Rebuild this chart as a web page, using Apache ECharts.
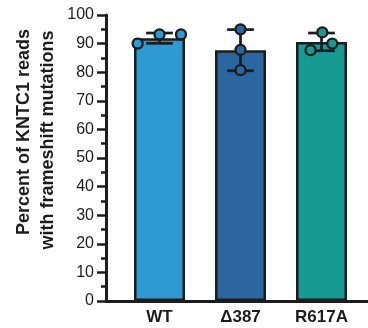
<!DOCTYPE html>
<html><head><meta charset="utf-8">
<script src="https://cdn.jsdelivr.net/npm/echarts@6/dist/echarts.min.js"></script>
<style>html,body{margin:0;padding:0;background:#fff}#c{width:368px;height:328px}</style>
</head><body><div id="c"></div>
<script>
const categories = ['WT', '\u0394387', 'R617A'];
const barColors = ['#2E9AD4', '#2B66A0', '#169A92'];
const means = [91.9, 87.7, 90.6];
const sds = [1.8, 7.2, 3.1];
const pointsWT = [90.0, 93.2, 93.2];
const pointsD387 = [95.0, 87.8, 80.7];
const pointsR617A = [87.7, 93.9, 90.0];
const jitterWT = [-0.27, 0.0, 0.265];
const jitterD387 = [0, 0, 0];
const jitterR617A = [-0.135, 0.01, 0.133];
const yMin = 0, yMax = 100, yInterval = 10;

const ink = '#1c1c1c';
const font = '"Liberation Sans", Arial, Helvetica, sans-serif';

const allPoints = [pointsWT, pointsD387, pointsR617A];
const allJitter = [jitterWT, jitterD387, jitterR617A];
const pointData = [];
allPoints.forEach((arr, i) => arr.forEach((v, k) => pointData.push([i, v, allJitter[i][k]])));
const errData = means.map((m, i) => [i, m, sds[i]]);

const chart = echarts.init(document.getElementById('c'), null, {renderer: 'canvas'});
chart.setOption({
  animation: false,
  backgroundColor: '#fff',
  grid: [
    {left: 119, right: 6, top: 15, bottom: 27},
    {left: 106, right: 1, top: 15, bottom: 27}
  ],
  xAxis: [
    {type: 'category', gridIndex: 0, data: categories,
     axisLine: {show: false}, axisTick: {show: false},
     axisLabel: {margin: 8, fontSize: 17, fontWeight: 'bold', color: ink, fontFamily: font}},
    {type: 'value', gridIndex: 1, min: 0, max: 1,
     axisLine: {show: true, lineStyle: {color: ink, width: 3}},
     axisTick: {show: false}, axisLabel: {show: false}, splitLine: {show: false}}
  ],
  yAxis: [
    {type: 'value', gridIndex: 0, min: yMin, max: yMax, show: false},
    {type: 'value', gridIndex: 1, min: yMin, max: yMax, interval: yInterval,
     axisLine: {show: true, lineStyle: {color: ink, width: 3}},
     axisTick: {show: true, length: 9, lineStyle: {color: ink, width: 2.5}},
     minorTick: {show: true, splitNumber: 2, length: 5, lineStyle: {color: ink, width: 2.5}},
     axisLabel: {margin: 12, fontSize: 16, color: ink, fontFamily: font},
     splitLine: {show: false}, minorSplitLine: {show: false}}
  ],
  graphic: [
    {type: 'text', x: 24, y: 132, rotation: Math.PI / 2,
     style: {text: 'Percent of KNTC1 reads', font: 'bold 18px ' + font, fill: ink, align: 'center', verticalAlign: 'middle'}},
    {type: 'text', x: 48, y: 140, rotation: Math.PI / 2,
     style: {text: 'with frameshift mutations', font: 'bold 18px ' + font, fill: ink, align: 'center', verticalAlign: 'middle'}}
  ],
  series: [
    {type: 'bar', xAxisIndex: 0, yAxisIndex: 0, barWidth: 51, z: 2,
     data: means.map((m, i) => ({value: m, itemStyle: {color: barColors[i]}})),
     itemStyle: {borderColor: ink, borderWidth: 2.5}},
    {type: 'custom', xAxisIndex: 0, yAxisIndex: 0, z: 3, data: errData,
     encode: {x: 0, y: 1},
     renderItem: function (params, api) {
       const i = api.value(0), m = api.value(1), s = api.value(2);
       const top = api.coord([i, m + s]);
       const bot = api.coord([i, m - s]);
       const half = api.size([1, 0])[0] * 0.165;
       const st = {stroke: ink, lineWidth: 2.7};
       return {type: 'group', children: [
         {type: 'line', shape: {x1: top[0], y1: top[1], x2: bot[0], y2: bot[1]}, style: st},
         {type: 'line', shape: {x1: top[0] - half, y1: top[1], x2: top[0] + half, y2: top[1]}, style: st},
         {type: 'line', shape: {x1: bot[0] - half, y1: bot[1], x2: bot[0] + half, y2: bot[1]}, style: st}
       ]};
     }},
    {type: 'custom', xAxisIndex: 0, yAxisIndex: 0, z: 4, data: pointData,
     encode: {x: 0, y: 1},
     renderItem: function (params, api) {
       const i = api.value(0), v = api.value(1), j = api.value(2);
       const c = api.coord([i, v]);
       const bw = api.size([1, 0])[0];
       return {type: 'circle', shape: {cx: c[0] + j * bw, cy: c[1], r: 5},
               style: {fill: barColors[i], stroke: ink, lineWidth: 2.3}};
     }}
  ]
});
</script></body></html>
